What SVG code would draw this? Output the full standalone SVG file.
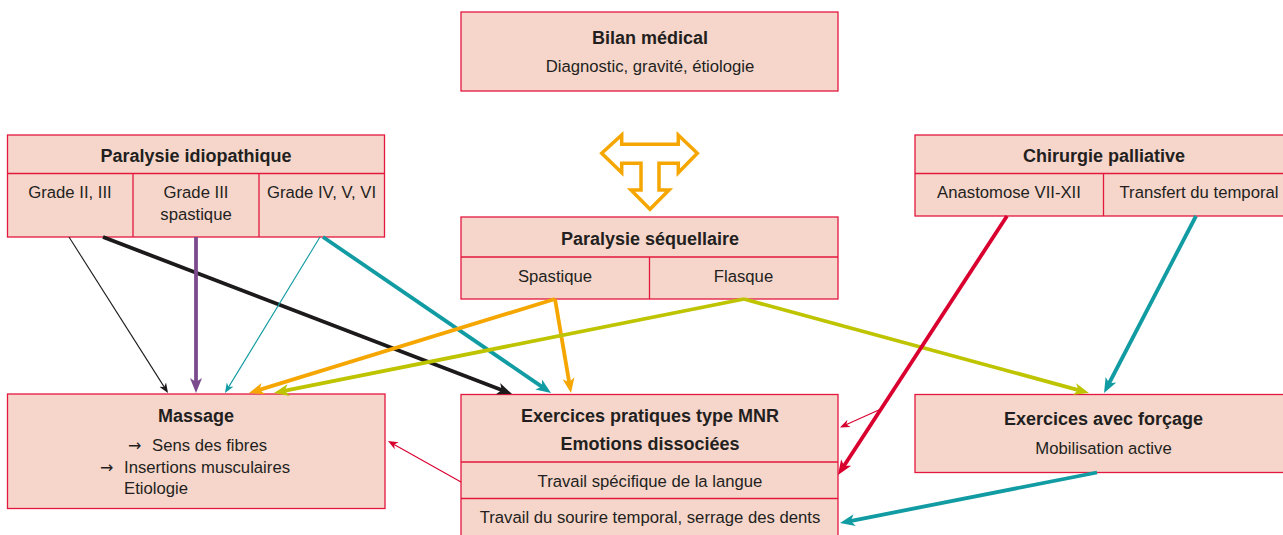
<svg xmlns="http://www.w3.org/2000/svg" width="1283" height="535" viewBox="0 0 1283 535">
<style>
.box{fill:#f6d6cb;stroke:#e2183d;stroke-width:1.3}
.div{stroke:#e2183d;stroke-width:1.3;fill:none}
text{font-family:"Liberation Sans",Arial,sans-serif;fill:#231f20;text-anchor:middle}
.t{font-size:18px;font-weight:bold}
.r{font-size:16.7px}
.l{text-anchor:start}
.arr{font-family:"DejaVu Sans",sans-serif;font-size:16px;text-anchor:start}
.thick{stroke-width:3.8;fill:none}
.thin{stroke-width:1.1;fill:none}
</style>
<defs>
<marker id="hBlack" markerUnits="userSpaceOnUse" markerWidth="16" markerHeight="14" viewBox="0 -7 16 14" refX="6" refY="0" orient="auto"><path d="M0,-6 L15,0 L0,6 L4,0 Z" fill="#1c1a1a"/></marker>
<marker id="hPurple" markerUnits="userSpaceOnUse" markerWidth="16" markerHeight="14" viewBox="0 -7 16 14" refX="6" refY="0" orient="auto"><path d="M0,-6 L15,0 L0,6 L4,0 Z" fill="#7b4b8e"/></marker>
<marker id="hTeal" markerUnits="userSpaceOnUse" markerWidth="16" markerHeight="14" viewBox="0 -7 16 14" refX="6" refY="0" orient="auto"><path d="M0,-6 L15,0 L0,6 L4,0 Z" fill="#119ba2"/></marker>
<marker id="hOrange" markerUnits="userSpaceOnUse" markerWidth="16" markerHeight="14" viewBox="0 -7 16 14" refX="6" refY="0" orient="auto"><path d="M0,-6 L15,0 L0,6 L4,0 Z" fill="#f5a600"/></marker>
<marker id="hLime" markerUnits="userSpaceOnUse" markerWidth="16" markerHeight="14" viewBox="0 -7 16 14" refX="6" refY="0" orient="auto"><path d="M0,-6 L15,0 L0,6 L4,0 Z" fill="#bec400"/></marker>
<marker id="hRed" markerUnits="userSpaceOnUse" markerWidth="16" markerHeight="14" viewBox="0 -7 16 14" refX="6" refY="0" orient="auto"><path d="M0,-6 L15,0 L0,6 L4,0 Z" fill="#d9002f"/></marker>
<marker id="tBlack" markerUnits="userSpaceOnUse" markerWidth="12" markerHeight="10" viewBox="0 -5 12 10" refX="4" refY="0" orient="auto"><path d="M0,-4 L10,0 L0,4 L3,0 Z" fill="#1c1a1a"/></marker>
<marker id="tTeal" markerUnits="userSpaceOnUse" markerWidth="12" markerHeight="10" viewBox="0 -5 12 10" refX="4" refY="0" orient="auto"><path d="M0,-4 L10,0 L0,4 L3,0 Z" fill="#119ba2"/></marker>
<marker id="tRed" markerUnits="userSpaceOnUse" markerWidth="12" markerHeight="10" viewBox="0 -5 12 10" refX="4" refY="0" orient="auto"><path d="M0,-4 L10,0 L0,4 L3,0 Z" fill="#d9002f"/></marker>
</defs>

<g id="bilan">
<rect class="box" x="461" y="12" width="377" height="79"/>
<text class="t" x="650" y="44">Bilan médical</text>
<text class="r" x="650" y="72">Diagnostic, gravité, étiologie</text>
</g>

<g id="t-arrow">
<path d="M601.7,153.3 L621.7,135 L621.7,144.3 L678.3,144.3 L678.3,135 L697.3,153.3 L678.3,172.7 L678.3,163.3 L659,163.3 L659,190 L669,190 L650,209.3 L631,190 L641,190 L641,163.3 L621.7,163.3 L621.7,172.7 Z" fill="#ffffff" stroke="#f5a600" stroke-width="3.5" stroke-linejoin="miter"/>
</g>

<g id="idiopathique">
<rect class="box" x="7.5" y="135" width="377" height="102"/>
<line class="div" x1="7.5" y1="173.5" x2="384.5" y2="173.5"/>
<line class="div" x1="133" y1="173.5" x2="133" y2="237"/>
<line class="div" x1="259" y1="173.5" x2="259" y2="237"/>
<text class="t" x="196" y="162">Paralysie idiopathique</text>
<text class="r" x="70" y="198">Grade II, III</text>
<text class="r" x="196" y="198">Grade III</text>
<text class="r" x="196" y="220">spastique</text>
<text class="r" x="321.5" y="198">Grade IV, V, VI</text>
</g>

<g id="chirurgie">
<rect class="box" x="915" y="135" width="376" height="81"/>
<line class="div" x1="915" y1="173.5" x2="1291" y2="173.5"/>
<line class="div" x1="1103.5" y1="173.5" x2="1103.5" y2="216"/>
<text class="t" x="1104" y="162">Chirurgie palliative</text>
<text class="r" x="1009" y="198">Anastomose VII-XII</text>
<text class="r" x="1199" y="198">Transfert du temporal</text>
</g>

<g id="sequellaire">
<rect class="box" x="461" y="217" width="377" height="82"/>
<line class="div" x1="461" y1="257" x2="838" y2="257"/>
<line class="div" x1="649.5" y1="257" x2="649.5" y2="299"/>
<text class="t" x="650" y="245">Paralysie séquellaire</text>
<text class="r" x="555" y="282">Spastique</text>
<text class="r" x="743.5" y="282">Flasque</text>
</g>

<g id="massage">
<rect class="box" x="7.5" y="394" width="377.5" height="114.5"/>
<text class="t" x="196" y="422">Massage</text>
<text class="r l" x="128" y="451"><tspan class="arr">→</tspan><tspan x="152">Sens des fibres</tspan></text>
<text class="r l" x="100" y="473"><tspan class="arr">→</tspan><tspan x="124">Insertions musculaires</tspan></text>
<text class="r l" x="124" y="494">Etiologie</text>
</g>

<g id="mnr">
<rect class="box" x="461" y="394.5" width="377" height="150"/>
<line class="div" x1="461" y1="462" x2="838" y2="462"/>
<line class="div" x1="461" y1="498.5" x2="838" y2="498.5"/>
<text class="t" x="650" y="422">Exercices pratiques type MNR</text>
<text class="t" x="650" y="449.5">Emotions dissociées</text>
<text class="r" x="650" y="487">Travail spécifique de la langue</text>
<text class="r" x="650" y="523">Travail du sourire temporal, serrage des dents</text>
</g>

<g id="forcage">
<rect class="box" x="915" y="394.5" width="376" height="78"/>
<text class="t" x="1103.5" y="425">Exercices avec forçage</text>
<text class="r" x="1103.5" y="453.5">Mobilisation active</text>
</g>

<g id="connectors">
<line class="thin" stroke="#1c1a1a" x1="69" y1="237" x2="164.8" y2="387.9" marker-end="url(#tBlack)"/>
<line class="thick" stroke="#1c1a1a" x1="103" y1="237" x2="503.6" y2="390.8" marker-end="url(#hBlack)"/>
<line class="thick" stroke="#7b4b8e" x1="196" y1="237" x2="196" y2="384" marker-end="url(#hPurple)"/>
<line class="thin" stroke="#119ba2" x1="320" y1="237" x2="228.1" y2="387.9" marker-end="url(#tTeal)"/>
<line class="thick" stroke="#119ba2" x1="323" y1="237" x2="543.6" y2="387.9" marker-end="url(#hTeal)"/>
<line class="thick" stroke="#f5a600" x1="555" y1="299" x2="257.6" y2="390.4" marker-end="url(#hOrange)"/>
<line class="thick" stroke="#f5a600" x1="555" y1="299" x2="569.5" y2="384.1" marker-end="url(#hOrange)"/>
<line class="thick" stroke="#bec400" x1="744" y1="299" x2="282.8" y2="391.2" marker-end="url(#hLime)"/>
<line class="thick" stroke="#bec400" x1="744" y1="299" x2="1080.3" y2="390.6" marker-end="url(#hLime)"/>
<line class="thick" stroke="#119ba2" x1="1196" y1="216" x2="1108.2" y2="385" marker-end="url(#hTeal)"/>
<line class="thick" stroke="#d9002f" x1="1007" y1="216" x2="842.9" y2="467.5" marker-end="url(#hRed)"/>
<line class="thin" stroke="#d9002f" x1="881" y1="409" x2="845.4" y2="425" marker-end="url(#tRed)"/>
<line class="thin" stroke="#d9002f" x1="461" y1="482" x2="393.2" y2="443.9" marker-end="url(#tRed)"/>
<line class="thick" stroke="#119ba2" x1="1097" y1="472.5" x2="848.8" y2="521.3" marker-end="url(#hTeal)"/>
</g>
</svg>
